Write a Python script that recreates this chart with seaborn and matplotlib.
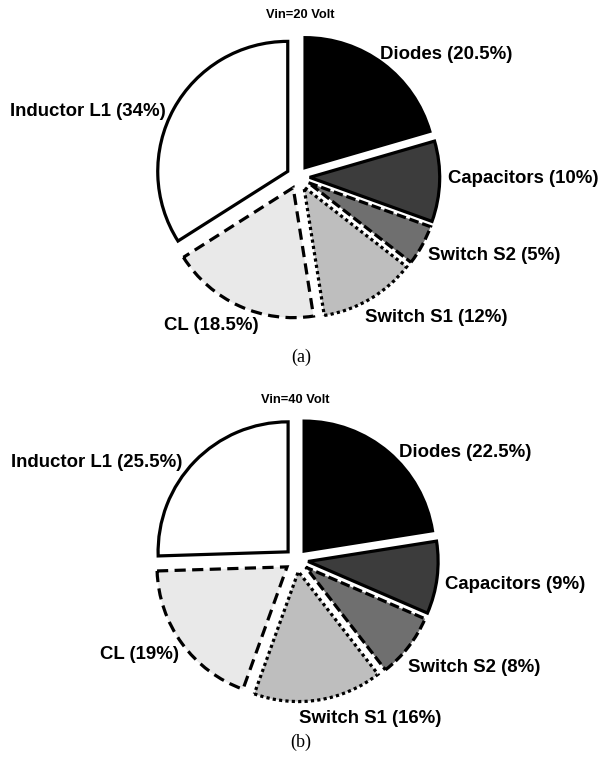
import matplotlib
matplotlib.use("Agg")
import matplotlib.pyplot as plt
import seaborn as sns

# data
components = ["Diodes", "Capacitors", "Switch S2", "Switch S1", "CL", "Inductor L1"]
share_20v = [20.5, 10, 5, 12, 18.5, 34]
share_40v = [22.5, 9, 8, 16, 19, 25.5]
titles = ["Vin=20 Volt", "Vin=40 Volt"]
captions = ["(a)", "(b)"]

# styling
fills = sns.color_palette(["#000000", "#3c3c3c", "#6f6f6f", "#bebebe", "#e9e9e9", "#ffffff"])
edge_styles = ["solid", "solid", (0, (3, 1.2)), (0, (1, 1)), (0, (3.5, 2)), "solid"]

# label anchor positions (data units, relative to the pie centre)
label_pos_20v = [(1.14, 0.94), (1.73, -0.01), (1.51, -0.60), (1.06, -1.08), (-0.67, -1.14), (-1.62, 0.50)]
label_pos_40v = [(1.30, 0.83), (1.68, -0.19), (1.37, -0.83), (0.57, -1.22), (-1.21, -0.73), (-1.54, 0.75)]

sns.set_style("white")
plt.rcParams["font.family"] = ["Liberation Sans", "DejaVu Sans"]
plt.rcParams["text.color"] = "black"

W, H = 602, 759
fig = plt.figure(figsize=(W / 100, H / 100), dpi=100)

half = 1.25
scale = 130  # px per data unit
panels = [
    (share_20v, label_pos_20v, (298, 177)),
    (share_40v, label_pos_40v, (296.5, 560)),
]

for vals, lpos, (cx, cy) in panels:
    size = 2 * half * scale
    ax = fig.add_axes([(cx - size / 2) / W, (H - cy - size / 2) / H, size / W, size / H])
    wedges, _ = ax.pie(
        vals,
        colors=fills,
        startangle=90,
        counterclock=False,
        explode=[0.09] * len(vals),
        wedgeprops=dict(edgecolor="black", linewidth=2.3),
    )
    for w, ls in zip(wedges, edge_styles):
        w.set_linestyle(ls)
        w.set_joinstyle("miter")
    for name, v, (lx, ly) in zip(components, vals, lpos):
        ax.text(lx, ly, f"{name} ({v:g}%)", ha="center", va="center", fontsize=13.4,
                fontweight="bold", color="black", clip_on=False)
    ax.set_xlim(-half, half)
    ax.set_ylim(-half, half)
    ax.set_aspect("equal")
    ax.axis("off")

fig.text(300 / W, 1 - 15 / H, titles[0], ha="center", va="center", fontsize=9.3, fontweight="bold")
fig.text(295 / W, 1 - 400 / H, titles[1], ha="center", va="center", fontsize=9.3, fontweight="bold")
fig.text(301 / W, 1 - 357 / H, captions[0], ha="center", va="center", fontsize=13,
         family=["Liberation Serif", "DejaVu Serif"])
fig.text(301 / W, 1 - 742 / H, captions[1], ha="center", va="center", fontsize=13,
         family=["Liberation Serif", "DejaVu Serif"])

fig.savefig("out.png", dpi=100)
